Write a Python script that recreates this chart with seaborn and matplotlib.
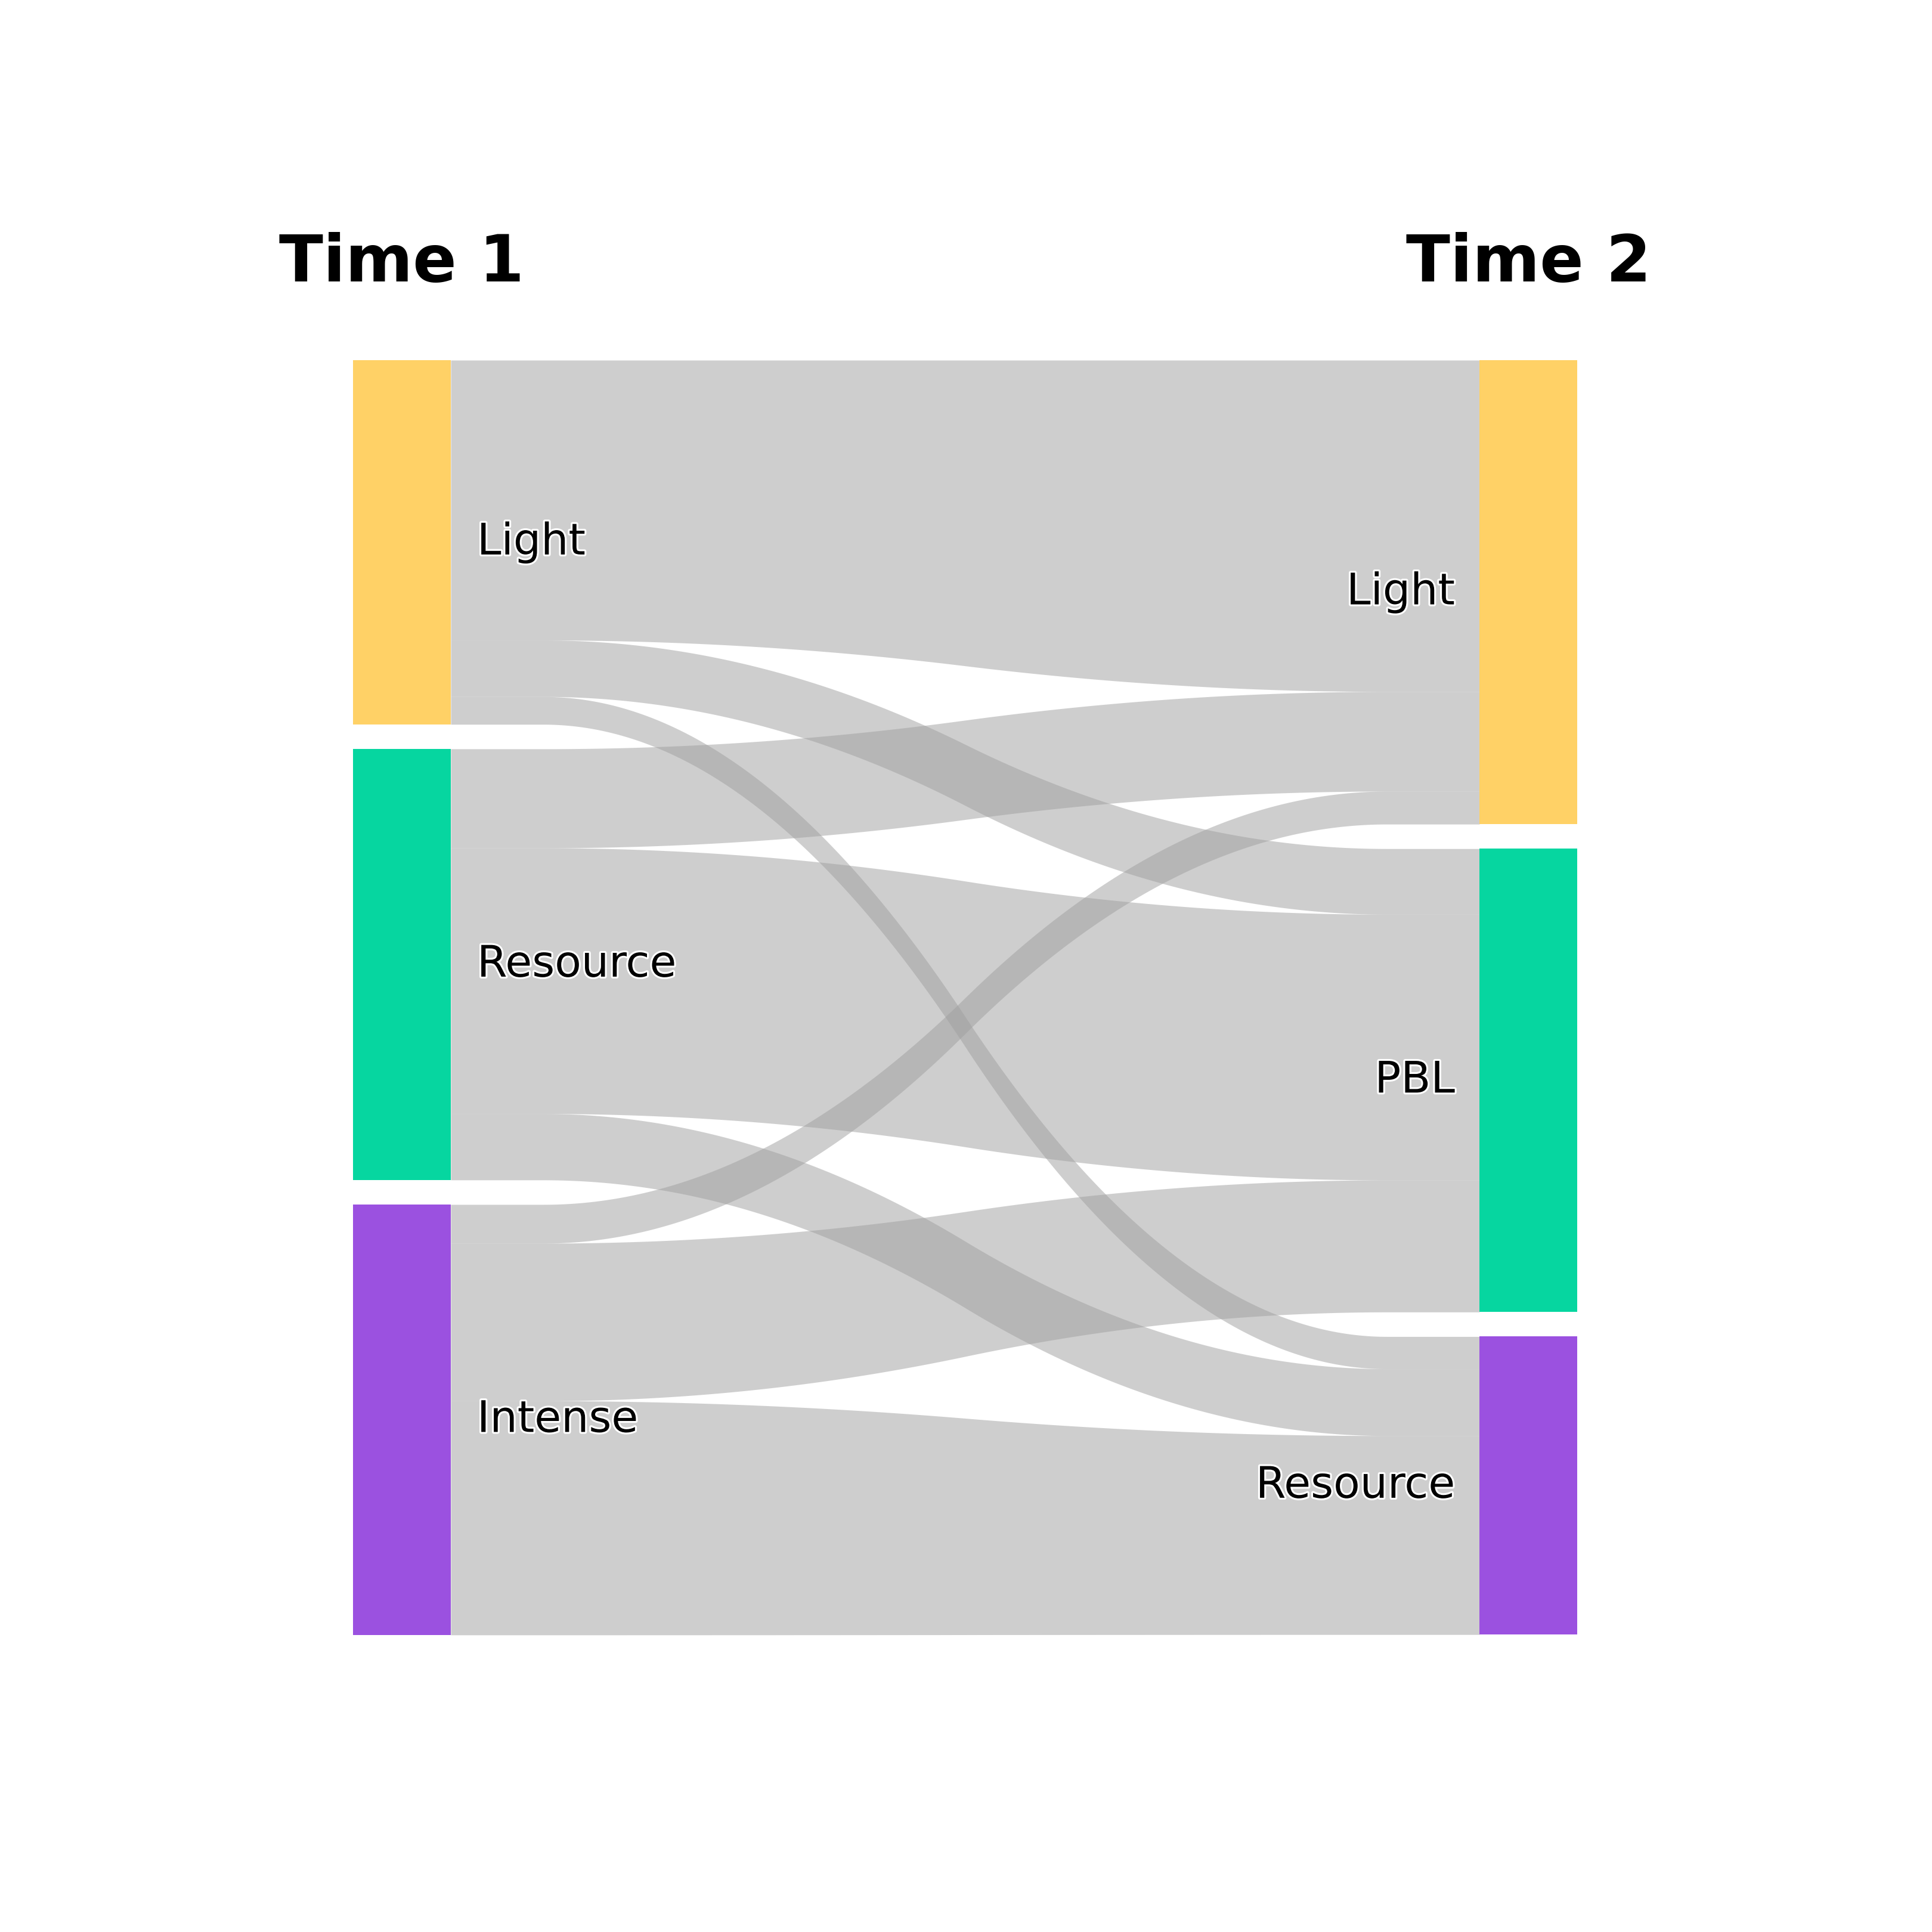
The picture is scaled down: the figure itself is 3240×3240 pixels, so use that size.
import numpy as np
import matplotlib
matplotlib.use("Agg")
import matplotlib.pyplot as plt
import matplotlib.patheffects as pe
import seaborn as sns

# ---------------- data ----------------
left_labels = ["Light", "Resource", "Intense"]
right_labels = ["Light", "PBL", "Resource"]
flow_source = ["Light", "Light", "Light",
               "Resource", "Resource", "Resource",
               "Intense", "Intense", "Intense"]
flow_target = ["Light", "PBL", "Resource",
               "Light", "PBL", "Resource",
               "Light", "PBL", "Resource"]
left_weight = [22.81, 4.60, 2.26,
               8.07, 21.65, 5.40,
               3.16, 12.84, 19.07]
right_weight = [27.00, 5.35, 2.63,
                8.12, 21.65, 5.45,
                2.68, 10.75, 16.20]
left_title = "Time 1"
right_title = "Time 2"

left_colors = ["#FFD166", "#06D6A0", "#9B51E0"]
right_colors = ["#FFD166", "#06D6A0", "#9B51E0"]

# ---------------- style ----------------
sns.set_theme(style="white")
plt.rcParams["font.family"] = ["DejaVu Sans"]
lpal = sns.color_palette(left_colors)
rpal = sns.color_palette(right_colors)

fig = plt.figure(figsize=(10.8, 10.8), dpi=300)
ax = fig.add_axes([0, 0, 1, 1])
ax.set_axis_off()

# axis scaling (pixel anchors)
k = 20.585           # px per unit
y0_px = 604.0        # top of nodes
x0_px, x1_px = 756.0, 2481.0
span = x1_px - x0_px
ax.set_xlim(-x0_px / span, (3240 - x0_px) / span)
ax.set_ylim((3240 - y0_px) / k, -y0_px / k)

nw = 164.0 / span
gap_l = 0.02 * sum(left_weight)
gap_r = 0.02 * sum(right_weight)

def node_extents(labels, nodes, weights, gap):
    ext = {}
    pos = 0.0
    for lab in labels:
        tot = sum(w for n, w in zip(nodes, weights) if n == lab)
        ext[lab] = [pos, pos + tot]
        pos += tot + gap
    return ext

lext = node_extents(left_labels, flow_source, left_weight, gap_l)
rext = node_extents(right_labels, flow_target, right_weight, gap_r)

# nodes
for lab, c in zip(left_labels, lpal):
    t, b = lext[lab]
    ax.fill_between([-nw, 0], [t, t], [b, b], color=c, lw=0, zorder=3)
for lab, c in zip(right_labels, rpal):
    t, b = rext[lab]
    ax.fill_between([1, 1 + nw], [t, t], [b, b], color=c, lw=0, zorder=3)

xs = np.linspace(0, 1, 400)
flat = 0.09
u = np.clip((xs - flat) / (1 - 2 * flat), 0, 1)
shape = np.where(u < 0.5, 2 * u ** 2, 1 - 2 * (1 - u) ** 2)

def curve(a, b):
    return a + (b - a) * shape

# strips
lcur = {lab: lext[lab][0] for lab in left_labels}
rcur = {lab: rext[lab][0] for lab in right_labels}
for s in left_labels:
    for t in right_labels:
        idx = [i for i in range(len(flow_source))
               if flow_source[i] == s and flow_target[i] == t]
        if not idx:
            continue
        i = idx[0]
        lw_, rw_ = left_weight[i], right_weight[i]
        ltop = lcur[s]; lcur[s] += lw_
        rtop = rcur[t]; rcur[t] += rw_
        top = curve(ltop, rtop)
        bot = curve(ltop + lw_, rtop + rw_)
        ax.fill_between(xs, top, bot, color=(159/255, 159/255, 159/255),
                        alpha=0.5, lw=0, zorder=2)

stroke = [pe.withStroke(linewidth=1.5, foreground="white")]
for lab in left_labels:
    t, b = lext[lab]
    ax.text(44 / span, (t + b) / 2, lab, ha="left", va="center",
            fontsize=17.5, color="black", path_effects=stroke, zorder=4)
for lab in right_labels:
    t, b = rext[lab]
    ax.text(1 - 41 / span, (t + b) / 2, lab, ha="right", va="center",
            fontsize=17.5, color="black", path_effects=stroke, zorder=4)

ty = (472 - y0_px) / k
ax.text(-nw / 2, ty, left_title, ha="center", va="baseline",
        fontsize=26, fontweight="bold", color="black")
ax.text(1 + nw / 2, ty, right_title, ha="center", va="baseline",
        fontsize=26, fontweight="bold", color="black")

fig.savefig("out.png", dpi=300, facecolor="white")
